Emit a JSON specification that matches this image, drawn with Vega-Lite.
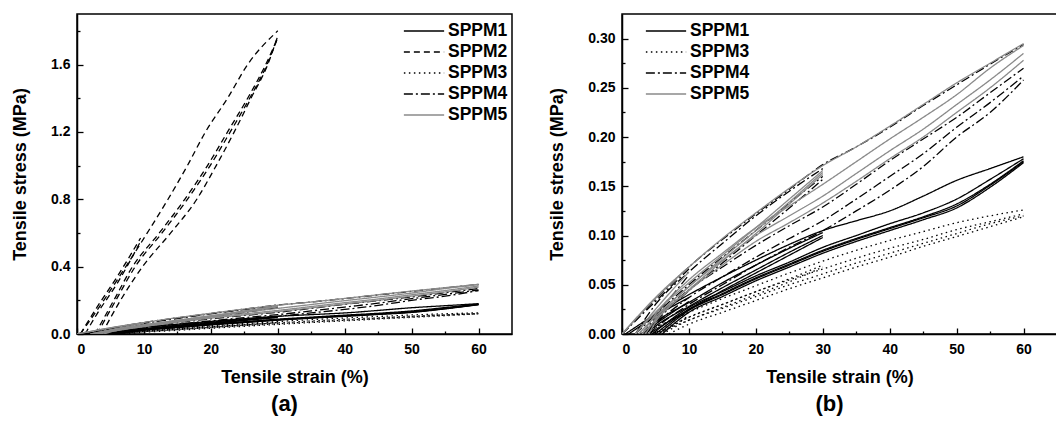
{
  "$schema": "https://vega.github.io/schema/vega-lite/v6.json",
  "background": "white",
  "padding": {"left": 10, "top": 13, "right": 0, "bottom": 0},
  "config": {
    "font": "Liberation Sans",
    "view": {"stroke": "black", "strokeWidth": 1.5},
    "axis": {
      "grid": false, "domainColor": "black", "domainWidth": 1.5, "tickColor": "black", "tickWidth": 1.3,
      "labelColor": "black", "labelFontSize": 14, "labelFontWeight": "bold", "labelFont": "Liberation Sans",
      "titleColor": "black", "titleFontSize": 18, "titleFontWeight": "bold", "titleFont": "Liberation Sans"
    },
    "legend": {
      "symbolType": "M-1.8,0H1.8", "symbolSize": 500, "symbolStrokeWidth": 1.5, "labelFontSize": 17.5, "labelFontWeight": "bold",
      "labelColor": "black", "labelFont": "Liberation Sans", "labelOffset": 12, "rowPadding": 0, "padding": 0
    }
  },
  "datasets": {
    "d": [
      {"s":"SPPM1","c":"1a","x":1,"y":0},{"s":"SPPM1","c":"1a","x":5,"y":0.018},{"s":"SPPM1","c":"1a","x":10,"y":0.037},
      {"s":"SPPM1","c":"1b","x":3,"y":0},{"s":"SPPM1","c":"1b","x":5,"y":0.01},{"s":"SPPM1","c":"1b","x":10,"y":0.033},
      {"s":"SPPM1","c":"1c","x":0.5,"y":0},{"s":"SPPM1","c":"1c","x":5,"y":0.02},{"s":"SPPM1","c":"1c","x":10,"y":0.04},{"s":"SPPM1","c":"1c","x":15,"y":0.058},{"s":"SPPM1","c":"1c","x":20,"y":0.075},{"s":"SPPM1","c":"1c","x":25,"y":0.091},{"s":"SPPM1","c":"1c","x":30,"y":0.105},{"s":"SPPM1","c":"1c","x":35,"y":0.115},{"s":"SPPM1","c":"1c","x":40,"y":0.125},{"s":"SPPM1","c":"1c","x":45,"y":0.14},{"s":"SPPM1","c":"1c","x":50,"y":0.156},{"s":"SPPM1","c":"1c","x":55,"y":0.168},{"s":"SPPM1","c":"1c","x":60,"y":0.18},
      {"s":"SPPM1","c":"1d","x":3.5,"y":0},{"s":"SPPM1","c":"1d","x":5,"y":0.008},{"s":"SPPM1","c":"1d","x":10,"y":0.028},{"s":"SPPM1","c":"1d","x":15,"y":0.047},{"s":"SPPM1","c":"1d","x":20,"y":0.065},{"s":"SPPM1","c":"1d","x":25,"y":0.083},{"s":"SPPM1","c":"1d","x":30,"y":0.1},
      {"s":"SPPM1","c":"1e","x":3,"y":0},{"s":"SPPM1","c":"1e","x":5,"y":0.012},{"s":"SPPM1","c":"1e","x":10,"y":0.032},{"s":"SPPM1","c":"1e","x":15,"y":0.052},{"s":"SPPM1","c":"1e","x":20,"y":0.07},{"s":"SPPM1","c":"1e","x":25,"y":0.087},{"s":"SPPM1","c":"1e","x":30,"y":0.103},
      {"s":"SPPM1","c":"1f","x":4,"y":0},{"s":"SPPM1","c":"1f","x":10,"y":0.025},{"s":"SPPM1","c":"1f","x":15,"y":0.044},{"s":"SPPM1","c":"1f","x":20,"y":0.062},{"s":"SPPM1","c":"1f","x":25,"y":0.08},{"s":"SPPM1","c":"1f","x":30,"y":0.098},
      {"s":"SPPM1","c":"1g","x":5,"y":0},{"s":"SPPM1","c":"1g","x":10,"y":0.025},{"s":"SPPM1","c":"1g","x":15,"y":0.041},{"s":"SPPM1","c":"1g","x":20,"y":0.057},{"s":"SPPM1","c":"1g","x":25,"y":0.071},{"s":"SPPM1","c":"1g","x":30,"y":0.085},{"s":"SPPM1","c":"1g","x":35,"y":0.097},{"s":"SPPM1","c":"1g","x":40,"y":0.108},{"s":"SPPM1","c":"1g","x":45,"y":0.119},{"s":"SPPM1","c":"1g","x":50,"y":0.132},{"s":"SPPM1","c":"1g","x":55,"y":0.152},{"s":"SPPM1","c":"1g","x":60,"y":0.176},
      {"s":"SPPM1","c":"1h","x":6,"y":0},{"s":"SPPM1","c":"1h","x":10,"y":0.022},{"s":"SPPM1","c":"1h","x":15,"y":0.038},{"s":"SPPM1","c":"1h","x":20,"y":0.054},{"s":"SPPM1","c":"1h","x":25,"y":0.068},{"s":"SPPM1","c":"1h","x":30,"y":0.082},{"s":"SPPM1","c":"1h","x":35,"y":0.094},{"s":"SPPM1","c":"1h","x":40,"y":0.105},{"s":"SPPM1","c":"1h","x":45,"y":0.116},{"s":"SPPM1","c":"1h","x":50,"y":0.128},{"s":"SPPM1","c":"1h","x":55,"y":0.149},{"s":"SPPM1","c":"1h","x":60,"y":0.174},
      {"s":"SPPM1","c":"1i","x":5.5,"y":0},{"s":"SPPM1","c":"1i","x":10,"y":0.024},{"s":"SPPM1","c":"1i","x":15,"y":0.04},{"s":"SPPM1","c":"1i","x":20,"y":0.056},{"s":"SPPM1","c":"1i","x":25,"y":0.07},{"s":"SPPM1","c":"1i","x":30,"y":0.084},{"s":"SPPM1","c":"1i","x":35,"y":0.096},{"s":"SPPM1","c":"1i","x":40,"y":0.107},{"s":"SPPM1","c":"1i","x":45,"y":0.118},{"s":"SPPM1","c":"1i","x":50,"y":0.13},{"s":"SPPM1","c":"1i","x":55,"y":0.151},{"s":"SPPM1","c":"1i","x":60,"y":0.175},
      {"s":"SPPM1","c":"1j","x":4.5,"y":0},{"s":"SPPM1","c":"1j","x":10,"y":0.027},{"s":"SPPM1","c":"1j","x":15,"y":0.043},{"s":"SPPM1","c":"1j","x":20,"y":0.059},{"s":"SPPM1","c":"1j","x":25,"y":0.073},{"s":"SPPM1","c":"1j","x":30,"y":0.088},{"s":"SPPM1","c":"1j","x":35,"y":0.1},{"s":"SPPM1","c":"1j","x":40,"y":0.112},{"s":"SPPM1","c":"1j","x":45,"y":0.123},{"s":"SPPM1","c":"1j","x":50,"y":0.137},{"s":"SPPM1","c":"1j","x":55,"y":0.157},{"s":"SPPM1","c":"1j","x":60,"y":0.178},

      {"s":"SPPM2","c":"2a","x":0.5,"y":0},{"s":"SPPM2","c":"2a","x":3,"y":0.16},{"s":"SPPM2","c":"2a","x":6,"y":0.34},{"s":"SPPM2","c":"2a","x":9.5,"y":0.57},
      {"s":"SPPM2","c":"2b","x":1.2,"y":0},{"s":"SPPM2","c":"2b","x":3,"y":0.12},{"s":"SPPM2","c":"2b","x":6,"y":0.3},{"s":"SPPM2","c":"2b","x":9.5,"y":0.55},
      {"s":"SPPM2","c":"2c","x":0.5,"y":0},{"s":"SPPM2","c":"2c","x":4,"y":0.2},{"s":"SPPM2","c":"2c","x":7.3,"y":0.4},{"s":"SPPM2","c":"2c","x":10.5,"y":0.6},{"s":"SPPM2","c":"2c","x":13.6,"y":0.8},{"s":"SPPM2","c":"2c","x":16.5,"y":1.0},{"s":"SPPM2","c":"2c","x":19.2,"y":1.2},{"s":"SPPM2","c":"2c","x":22.5,"y":1.4},{"s":"SPPM2","c":"2c","x":25.5,"y":1.6},{"s":"SPPM2","c":"2c","x":30,"y":1.8},
      {"s":"SPPM2","c":"2d","x":3.7,"y":0},{"s":"SPPM2","c":"2d","x":6.5,"y":0.2},{"s":"SPPM2","c":"2d","x":9.8,"y":0.4},{"s":"SPPM2","c":"2d","x":14,"y":0.6},{"s":"SPPM2","c":"2d","x":17.9,"y":0.8},{"s":"SPPM2","c":"2d","x":20.8,"y":1.0},{"s":"SPPM2","c":"2d","x":23.5,"y":1.2},{"s":"SPPM2","c":"2d","x":26,"y":1.4},{"s":"SPPM2","c":"2d","x":28.5,"y":1.6},{"s":"SPPM2","c":"2d","x":30,"y":1.77},
      {"s":"SPPM2","c":"2e","x":2.7,"y":0},{"s":"SPPM2","c":"2e","x":5.5,"y":0.2},{"s":"SPPM2","c":"2e","x":8.3,"y":0.4},{"s":"SPPM2","c":"2e","x":12.3,"y":0.6},{"s":"SPPM2","c":"2e","x":16.1,"y":0.8},{"s":"SPPM2","c":"2e","x":19.5,"y":1.0},{"s":"SPPM2","c":"2e","x":22.5,"y":1.2},{"s":"SPPM2","c":"2e","x":25.5,"y":1.4},{"s":"SPPM2","c":"2e","x":28.2,"y":1.6},{"s":"SPPM2","c":"2e","x":30,"y":1.76},
      {"s":"SPPM2","c":"2f","x":3,"y":0},{"s":"SPPM2","c":"2f","x":5.8,"y":0.2},{"s":"SPPM2","c":"2f","x":8.7,"y":0.4},{"s":"SPPM2","c":"2f","x":12.7,"y":0.6},{"s":"SPPM2","c":"2f","x":16.5,"y":0.8},{"s":"SPPM2","c":"2f","x":19.9,"y":1.0},{"s":"SPPM2","c":"2f","x":22.9,"y":1.2},{"s":"SPPM2","c":"2f","x":25.8,"y":1.4},{"s":"SPPM2","c":"2f","x":28.4,"y":1.6},{"s":"SPPM2","c":"2f","x":30,"y":1.76},

      {"s":"SPPM3","c":"3a","x":2,"y":0},{"s":"SPPM3","c":"3a","x":6,"y":0.01},{"s":"SPPM3","c":"3a","x":10,"y":0.022},
      {"s":"SPPM3","c":"3b","x":4,"y":0},{"s":"SPPM3","c":"3b","x":7,"y":0.006},{"s":"SPPM3","c":"3b","x":10,"y":0.019},
      {"s":"SPPM3","c":"3c","x":3,"y":0},{"s":"SPPM3","c":"3c","x":10,"y":0.022},{"s":"SPPM3","c":"3c","x":15,"y":0.036},{"s":"SPPM3","c":"3c","x":20,"y":0.049},{"s":"SPPM3","c":"3c","x":25,"y":0.062},{"s":"SPPM3","c":"3c","x":30,"y":0.074},{"s":"SPPM3","c":"3c","x":35,"y":0.085},{"s":"SPPM3","c":"3c","x":40,"y":0.095},{"s":"SPPM3","c":"3c","x":45,"y":0.104},{"s":"SPPM3","c":"3c","x":50,"y":0.113},{"s":"SPPM3","c":"3c","x":55,"y":0.12},{"s":"SPPM3","c":"3c","x":60,"y":0.126},
      {"s":"SPPM3","c":"3d","x":5,"y":0},{"s":"SPPM3","c":"3d","x":10,"y":0.014},{"s":"SPPM3","c":"3d","x":15,"y":0.027},{"s":"SPPM3","c":"3d","x":20,"y":0.04},{"s":"SPPM3","c":"3d","x":25,"y":0.053},{"s":"SPPM3","c":"3d","x":30,"y":0.068},
      {"s":"SPPM3","c":"3e","x":4.5,"y":0},{"s":"SPPM3","c":"3e","x":10,"y":0.017},{"s":"SPPM3","c":"3e","x":15,"y":0.03},{"s":"SPPM3","c":"3e","x":20,"y":0.043},{"s":"SPPM3","c":"3e","x":25,"y":0.056},{"s":"SPPM3","c":"3e","x":30,"y":0.07},
      {"s":"SPPM3","c":"3f","x":7,"y":0},{"s":"SPPM3","c":"3f","x":10,"y":0.01},{"s":"SPPM3","c":"3f","x":15,"y":0.022},{"s":"SPPM3","c":"3f","x":20,"y":0.034},{"s":"SPPM3","c":"3f","x":25,"y":0.046},{"s":"SPPM3","c":"3f","x":30,"y":0.057},{"s":"SPPM3","c":"3f","x":35,"y":0.068},{"s":"SPPM3","c":"3f","x":40,"y":0.078},{"s":"SPPM3","c":"3f","x":45,"y":0.089},{"s":"SPPM3","c":"3f","x":50,"y":0.099},{"s":"SPPM3","c":"3f","x":55,"y":0.109},{"s":"SPPM3","c":"3f","x":60,"y":0.119},
      {"s":"SPPM3","c":"3g","x":6,"y":0},{"s":"SPPM3","c":"3g","x":10,"y":0.014},{"s":"SPPM3","c":"3g","x":15,"y":0.026},{"s":"SPPM3","c":"3g","x":20,"y":0.038},{"s":"SPPM3","c":"3g","x":25,"y":0.05},{"s":"SPPM3","c":"3g","x":30,"y":0.061},{"s":"SPPM3","c":"3g","x":35,"y":0.072},{"s":"SPPM3","c":"3g","x":40,"y":0.082},{"s":"SPPM3","c":"3g","x":45,"y":0.092},{"s":"SPPM3","c":"3g","x":50,"y":0.102},{"s":"SPPM3","c":"3g","x":55,"y":0.112},{"s":"SPPM3","c":"3g","x":60,"y":0.12},
      {"s":"SPPM3","c":"3h","x":5.5,"y":0},{"s":"SPPM3","c":"3h","x":10,"y":0.017},{"s":"SPPM3","c":"3h","x":15,"y":0.03},{"s":"SPPM3","c":"3h","x":20,"y":0.043},{"s":"SPPM3","c":"3h","x":25,"y":0.055},{"s":"SPPM3","c":"3h","x":30,"y":0.066},{"s":"SPPM3","c":"3h","x":35,"y":0.077},{"s":"SPPM3","c":"3h","x":40,"y":0.087},{"s":"SPPM3","c":"3h","x":45,"y":0.096},{"s":"SPPM3","c":"3h","x":50,"y":0.106},{"s":"SPPM3","c":"3h","x":55,"y":0.114},{"s":"SPPM3","c":"3h","x":60,"y":0.122},

      {"s":"SPPM4","c":"4a","x":0,"y":0},{"s":"SPPM4","c":"4a","x":5,"y":0.033},{"s":"SPPM4","c":"4a","x":10,"y":0.066},
      {"s":"SPPM4","c":"4b","x":2,"y":0},{"s":"SPPM4","c":"4b","x":5,"y":0.02},{"s":"SPPM4","c":"4b","x":10,"y":0.06},
      {"s":"SPPM4","c":"4c","x":0,"y":0},{"s":"SPPM4","c":"4c","x":5,"y":0.035},{"s":"SPPM4","c":"4c","x":10,"y":0.068},{"s":"SPPM4","c":"4c","x":15,"y":0.096},{"s":"SPPM4","c":"4c","x":20,"y":0.122},{"s":"SPPM4","c":"4c","x":25,"y":0.147},{"s":"SPPM4","c":"4c","x":30,"y":0.172},{"s":"SPPM4","c":"4c","x":35,"y":0.19},{"s":"SPPM4","c":"4c","x":40,"y":0.21},{"s":"SPPM4","c":"4c","x":45,"y":0.232},{"s":"SPPM4","c":"4c","x":50,"y":0.253},{"s":"SPPM4","c":"4c","x":55,"y":0.274},{"s":"SPPM4","c":"4c","x":60,"y":0.294},
      {"s":"SPPM4","c":"4d","x":2,"y":0},{"s":"SPPM4","c":"4d","x":5,"y":0.03},{"s":"SPPM4","c":"4d","x":10,"y":0.063},{"s":"SPPM4","c":"4d","x":15,"y":0.092},{"s":"SPPM4","c":"4d","x":20,"y":0.12},{"s":"SPPM4","c":"4d","x":25,"y":0.145},{"s":"SPPM4","c":"4d","x":30,"y":0.168},
      {"s":"SPPM4","c":"4e","x":3,"y":0},{"s":"SPPM4","c":"4e","x":5,"y":0.018},{"s":"SPPM4","c":"4e","x":10,"y":0.05},{"s":"SPPM4","c":"4e","x":15,"y":0.078},{"s":"SPPM4","c":"4e","x":20,"y":0.105},{"s":"SPPM4","c":"4e","x":25,"y":0.133},{"s":"SPPM4","c":"4e","x":30,"y":0.16},
      {"s":"SPPM4","c":"4f","x":3.5,"y":0},{"s":"SPPM4","c":"4f","x":5,"y":0.012},{"s":"SPPM4","c":"4f","x":10,"y":0.044},{"s":"SPPM4","c":"4f","x":15,"y":0.072},{"s":"SPPM4","c":"4f","x":20,"y":0.1},{"s":"SPPM4","c":"4f","x":25,"y":0.128},{"s":"SPPM4","c":"4f","x":30,"y":0.157},
      {"s":"SPPM4","c":"4g","x":3,"y":0},{"s":"SPPM4","c":"4g","x":5,"y":0.015},{"s":"SPPM4","c":"4g","x":10,"y":0.045},{"s":"SPPM4","c":"4g","x":15,"y":0.068},{"s":"SPPM4","c":"4g","x":20,"y":0.09},{"s":"SPPM4","c":"4g","x":25,"y":0.11},{"s":"SPPM4","c":"4g","x":30,"y":0.129},{"s":"SPPM4","c":"4g","x":35,"y":0.152},{"s":"SPPM4","c":"4g","x":40,"y":0.176},{"s":"SPPM4","c":"4g","x":45,"y":0.198},{"s":"SPPM4","c":"4g","x":50,"y":0.22},{"s":"SPPM4","c":"4g","x":55,"y":0.245},{"s":"SPPM4","c":"4g","x":60,"y":0.27},
      {"s":"SPPM4","c":"4h","x":3.5,"y":0},{"s":"SPPM4","c":"4h","x":5,"y":0.01},{"s":"SPPM4","c":"4h","x":10,"y":0.037},{"s":"SPPM4","c":"4h","x":15,"y":0.058},{"s":"SPPM4","c":"4h","x":20,"y":0.078},{"s":"SPPM4","c":"4h","x":25,"y":0.097},{"s":"SPPM4","c":"4h","x":30,"y":0.115},{"s":"SPPM4","c":"4h","x":35,"y":0.137},{"s":"SPPM4","c":"4h","x":40,"y":0.16},{"s":"SPPM4","c":"4h","x":45,"y":0.183},{"s":"SPPM4","c":"4h","x":50,"y":0.21},{"s":"SPPM4","c":"4h","x":55,"y":0.235},{"s":"SPPM4","c":"4h","x":60,"y":0.262},
      {"s":"SPPM4","c":"4i","x":4,"y":0},{"s":"SPPM4","c":"4i","x":5,"y":0.006},{"s":"SPPM4","c":"4i","x":10,"y":0.03},{"s":"SPPM4","c":"4i","x":15,"y":0.05},{"s":"SPPM4","c":"4i","x":20,"y":0.07},{"s":"SPPM4","c":"4i","x":25,"y":0.088},{"s":"SPPM4","c":"4i","x":30,"y":0.105},{"s":"SPPM4","c":"4i","x":35,"y":0.125},{"s":"SPPM4","c":"4i","x":40,"y":0.146},{"s":"SPPM4","c":"4i","x":45,"y":0.17},{"s":"SPPM4","c":"4i","x":50,"y":0.2},{"s":"SPPM4","c":"4i","x":55,"y":0.225},{"s":"SPPM4","c":"4i","x":60,"y":0.258},

      {"s":"SPPM5","c":"5a","x":0,"y":0},{"s":"SPPM5","c":"5a","x":5,"y":0.037},{"s":"SPPM5","c":"5a","x":10,"y":0.068},
      {"s":"SPPM5","c":"5b","x":2,"y":0},{"s":"SPPM5","c":"5b","x":5,"y":0.025},{"s":"SPPM5","c":"5b","x":10,"y":0.063},
      {"s":"SPPM5","c":"5c","x":0,"y":0},{"s":"SPPM5","c":"5c","x":5,"y":0.036},{"s":"SPPM5","c":"5c","x":10,"y":0.068},{"s":"SPPM5","c":"5c","x":15,"y":0.097},{"s":"SPPM5","c":"5c","x":20,"y":0.123},{"s":"SPPM5","c":"5c","x":25,"y":0.148},{"s":"SPPM5","c":"5c","x":30,"y":0.171},{"s":"SPPM5","c":"5c","x":35,"y":0.19},{"s":"SPPM5","c":"5c","x":40,"y":0.211},{"s":"SPPM5","c":"5c","x":45,"y":0.233},{"s":"SPPM5","c":"5c","x":50,"y":0.255},{"s":"SPPM5","c":"5c","x":55,"y":0.275},{"s":"SPPM5","c":"5c","x":60,"y":0.295},
      {"s":"SPPM5","c":"5d","x":2,"y":0},{"s":"SPPM5","c":"5d","x":5,"y":0.022},{"s":"SPPM5","c":"5d","x":10,"y":0.052},{"s":"SPPM5","c":"5d","x":15,"y":0.08},{"s":"SPPM5","c":"5d","x":20,"y":0.108},{"s":"SPPM5","c":"5d","x":25,"y":0.137},{"s":"SPPM5","c":"5d","x":30,"y":0.166},
      {"s":"SPPM5","c":"5e","x":3,"y":0},{"s":"SPPM5","c":"5e","x":5,"y":0.014},{"s":"SPPM5","c":"5e","x":10,"y":0.045},{"s":"SPPM5","c":"5e","x":15,"y":0.074},{"s":"SPPM5","c":"5e","x":20,"y":0.102},{"s":"SPPM5","c":"5e","x":25,"y":0.132},{"s":"SPPM5","c":"5e","x":30,"y":0.162},
      {"s":"SPPM5","c":"5f","x":2.5,"y":0},{"s":"SPPM5","c":"5f","x":5,"y":0.018},{"s":"SPPM5","c":"5f","x":10,"y":0.048},{"s":"SPPM5","c":"5f","x":15,"y":0.077},{"s":"SPPM5","c":"5f","x":20,"y":0.105},{"s":"SPPM5","c":"5f","x":25,"y":0.134},{"s":"SPPM5","c":"5f","x":30,"y":0.164},
      {"s":"SPPM5","c":"5g","x":3,"y":0},{"s":"SPPM5","c":"5g","x":5,"y":0.02},{"s":"SPPM5","c":"5g","x":10,"y":0.055},{"s":"SPPM5","c":"5g","x":15,"y":0.082},{"s":"SPPM5","c":"5g","x":20,"y":0.108},{"s":"SPPM5","c":"5g","x":25,"y":0.13},{"s":"SPPM5","c":"5g","x":30,"y":0.152},{"s":"SPPM5","c":"5g","x":35,"y":0.175},{"s":"SPPM5","c":"5g","x":40,"y":0.198},{"s":"SPPM5","c":"5g","x":45,"y":0.22},{"s":"SPPM5","c":"5g","x":50,"y":0.243},{"s":"SPPM5","c":"5g","x":55,"y":0.27},{"s":"SPPM5","c":"5g","x":60,"y":0.293},
      {"s":"SPPM5","c":"5h","x":3.5,"y":0},{"s":"SPPM5","c":"5h","x":5,"y":0.015},{"s":"SPPM5","c":"5h","x":10,"y":0.048},{"s":"SPPM5","c":"5h","x":15,"y":0.075},{"s":"SPPM5","c":"5h","x":20,"y":0.1},{"s":"SPPM5","c":"5h","x":25,"y":0.12},{"s":"SPPM5","c":"5h","x":30,"y":0.14},{"s":"SPPM5","c":"5h","x":35,"y":0.163},{"s":"SPPM5","c":"5h","x":40,"y":0.186},{"s":"SPPM5","c":"5h","x":45,"y":0.208},{"s":"SPPM5","c":"5h","x":50,"y":0.233},{"s":"SPPM5","c":"5h","x":55,"y":0.258},{"s":"SPPM5","c":"5h","x":60,"y":0.285},
      {"s":"SPPM5","c":"5i","x":4,"y":0},{"s":"SPPM5","c":"5i","x":5,"y":0.012},{"s":"SPPM5","c":"5i","x":10,"y":0.044},{"s":"SPPM5","c":"5i","x":15,"y":0.07},{"s":"SPPM5","c":"5i","x":20,"y":0.094},{"s":"SPPM5","c":"5i","x":25,"y":0.113},{"s":"SPPM5","c":"5i","x":30,"y":0.133},{"s":"SPPM5","c":"5i","x":35,"y":0.155},{"s":"SPPM5","c":"5i","x":40,"y":0.178},{"s":"SPPM5","c":"5i","x":45,"y":0.2},{"s":"SPPM5","c":"5i","x":50,"y":0.225},{"s":"SPPM5","c":"5i","x":55,"y":0.25},{"s":"SPPM5","c":"5i","x":60,"y":0.278}
    ]
  },
  "hconcat": [
    {
      "width": 435, "height": 320,
      "data": {"name": "d"},
      "title": {"text": "(a)", "orient": "bottom", "fontSize": 22, "fontWeight": "bold", "color": "black", "offset": 8, "dx": -10},
      "layer": [
        {
          "mark": {"type": "line", "strokeWidth": 1.3, "interpolate": "monotone", "clip": true},
          "encoding": {
            "x": {"field": "x", "type": "quantitative", "scale": {"domain": [0, 65], "nice": false},
                  "axis": {"values": [0,10,20,30,40,50,60], "tickSize": -6, "labelPadding": 14, "title": "Tensile strain (%)", "titlePadding": 12}},
            "y": {"field": "y", "type": "quantitative", "scale": {"domain": [0, 1.9], "nice": false},
                  "axis": {"values": [0,0.4,0.8,1.2,1.6], "format": ".1f", "tickSize": -6, "labelPadding": 13, "title": "Tensile stress (MPa)", "titlePadding": 21}},
            "detail": {"field": "c", "type": "nominal"},
            "color": {"field": "s", "type": "nominal",
                      "scale": {"domain": ["SPPM1","SPPM2","SPPM3","SPPM4","SPPM5"], "range": ["#000000","#000000","#000000","#000000","#8a8a8a"]},
                      "legend": {"title": null, "orient": "none", "legendX": 335, "legendY": 5}},
            "strokeDash": {"field": "s", "type": "nominal",
                      "scale": {"domain": ["SPPM1","SPPM2","SPPM3","SPPM4","SPPM5"], "range": [[1,0],[6,4],[1.5,3.5],[9,3,2,3],[1,0]]},
                      "legend": {"title": null, "orient": "none", "legendX": 335, "legendY": 5}}
          }
        },
        {
          "mark": {"type": "point", "opacity": 0},
          "encoding": {
            "x": {"field": "x", "type": "quantitative", "scale": {"domain": [0, 65], "nice": false},
                  "axis": {"orient": "bottom", "values": [5,15,25,35,45,55], "labels": false, "tickSize": -3, "domain": false, "title": null}},
            "y": {"field": "y", "type": "quantitative", "scale": {"domain": [0, 1.9], "nice": false},
                  "axis": {"orient": "left", "values": [0.2,0.6,1.0,1.4,1.8], "labels": false, "tickSize": -3, "domain": false, "title": null}}
          }
        }
      ],
      "resolve": {"axis": {"x": "independent", "y": "independent"}}
    },
    {
      "width": 435, "height": 320,
      "data": {"name": "d"},
      "transform": [{"filter": "datum.s !== 'SPPM2'"}],
      "title": {"text": "(b)", "orient": "bottom", "fontSize": 22, "fontWeight": "bold", "color": "black", "offset": 8, "dx": -10},
      "layer": [
        {
          "mark": {"type": "line", "strokeWidth": 1.3, "interpolate": "monotone", "clip": true},
          "encoding": {
            "x": {"field": "x", "type": "quantitative", "scale": {"domain": [0, 65], "nice": false},
                  "axis": {"values": [0,10,20,30,40,50,60], "tickSize": -6, "labelPadding": 14, "title": "Tensile strain (%)", "titlePadding": 12}},
            "y": {"field": "y", "type": "quantitative", "scale": {"domain": [0, 0.325], "nice": false},
                  "axis": {"values": [0,0.05,0.1,0.15,0.2,0.25,0.3], "format": ".2f", "tickSize": -6, "labelPadding": 13, "title": "Tensile stress (MPa)", "titlePadding": 21}},
            "detail": {"field": "c", "type": "nominal"},
            "color": {"field": "s", "type": "nominal",
                      "scale": {"domain": ["SPPM1","SPPM3","SPPM4","SPPM5"], "range": ["#000000","#000000","#000000","#8a8a8a"]},
                      "legend": {"title": null, "orient": "none", "legendX": 32, "legendY": 5}},
            "strokeDash": {"field": "s", "type": "nominal",
                      "scale": {"domain": ["SPPM1","SPPM3","SPPM4","SPPM5"], "range": [[1,0],[1.5,3.5],[9,3,2,3],[1,0]]},
                      "legend": {"title": null, "orient": "none", "legendX": 32, "legendY": 5}}
          }
        },
        {
          "mark": {"type": "point", "opacity": 0},
          "encoding": {
            "x": {"field": "x", "type": "quantitative", "scale": {"domain": [0, 65], "nice": false},
                  "axis": {"orient": "bottom", "values": [5,15,25,35,45,55], "labels": false, "tickSize": -3, "domain": false, "title": null}},
            "y": {"field": "y", "type": "quantitative", "scale": {"domain": [0, 0.325], "nice": false},
                  "axis": {"orient": "left", "values": [0.025,0.075,0.125,0.175,0.225,0.275], "labels": false, "tickSize": -3, "domain": false, "title": null}}
          }
        }
      ],
      "resolve": {"axis": {"x": "independent", "y": "independent"}}
    }
  ],
  "spacing": 35,
  "resolve": {"scale": {"color": "independent", "strokeDash": "independent"}, "legend": {"color": "independent", "strokeDash": "independent"}}
}
